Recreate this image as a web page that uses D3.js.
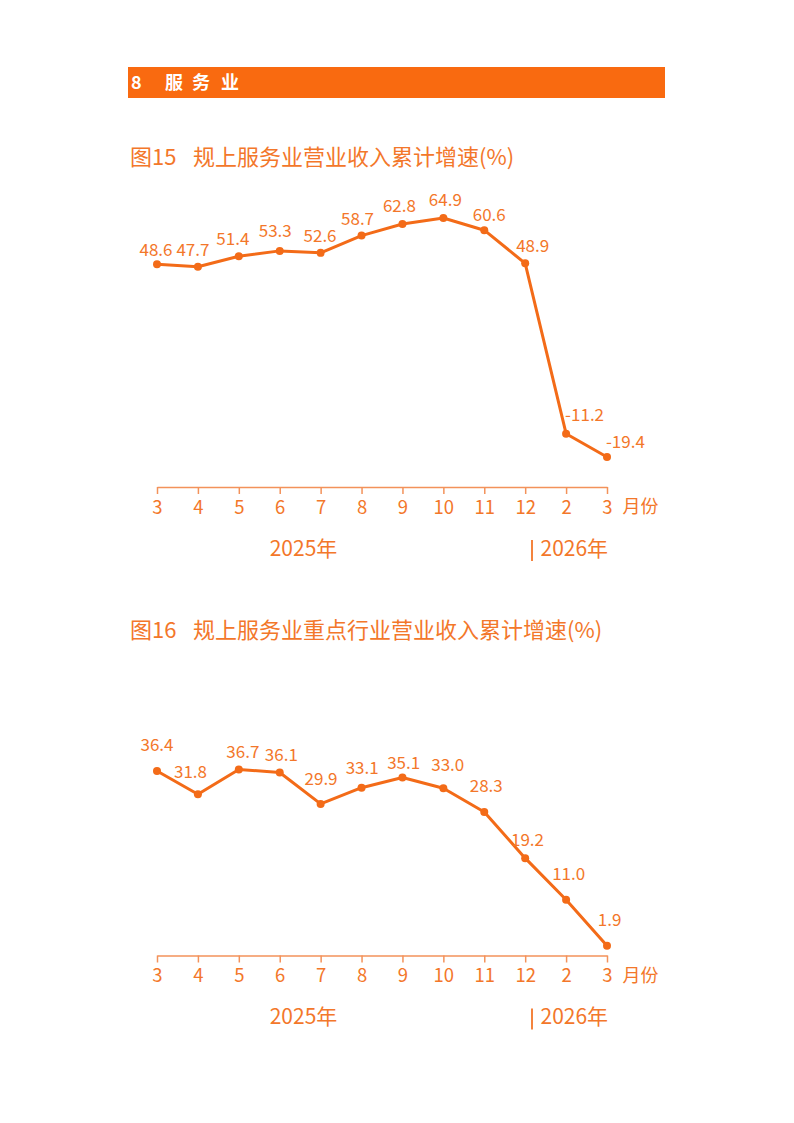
<!DOCTYPE html>
<html><head><meta charset="utf-8">
<script src="https://cdn.jsdelivr.net/npm/d3@7/dist/d3.min.js"></script>
<style>
html,body{margin:0;padding:0;background:#fff;}
svg{display:block;font-family:"Noto Sans CJK SC","Noto Sans",sans-serif;}
</style></head>
<body>
<svg id="page" width="794" height="1123"></svg>
<script>
// ---- data ----
const months = ["3","4","5","6","7","8","9","10","11","12","2","3"];
const revenueGrowth = [48.6,47.7,51.4,53.3,52.6,58.7,62.8,64.9,60.6,48.9,-11.2,-19.4];
const keyIndustryGrowth = [36.4,31.8,36.7,36.1,29.9,33.1,35.1,33.0,28.3,19.2,11.0,1.9];
const yearLabels = ["2025年","2026年"];
const unitLabel = "月份";
const title1 = ["图15","规上服务业营业收入累计增速(%)"];
const title2 = ["图16","规上服务业重点行业营业收入累计增速(%)"];
const sectionTitle = ["8","服","务","业"];

// ---- layout (label nudges in px relative to points) ----
const nudge1 = [[-1,-14],[-5,-17],[-6,-17],[-4.5,-20],[-0.6,-17],[-4,-17],[-3,-18],[2,-18],[5,-15],[7.5,-17],[18.5,-19],[18.4,-15]];
const nudge2 = [[0,-26.4],[-7.4,-22],[4,-17.6],[1.6,-18],[0.4,-25.4],[0.6,-20],[1.2,-15],[4.4,-23.7],[2,-26],[2.3,-18.7],[2.6,-26],[2.6,-26]];

const ORANGE = "#F36B18", TEXT = "#F3772A", AXIS = "#F3925A";
const svg = d3.select("#page");

// section header
svg.append("rect").attr("x",128).attr("y",67).attr("width",537).attr("height",31).attr("fill","#F96A10");
const hx = [131,165,192,221];
svg.append("g").selectAll("text").data(sectionTitle).join("text")
  .attr("x",(d,i)=>hx[i]).attr("y",83).attr("dy","0.36em")
  .attr("fill","#fff").attr("font-weight","bold").attr("font-size",18).text(d=>d);

function chart(opts){
  const g = svg.append("g");
  // title
  g.append("text").attr("x",130).attr("y",opts.titleY).attr("dy","0.36em")
    .attr("fill",TEXT).attr("font-size",22).text(opts.title[0]);
  g.append("text").attr("x",193).attr("y",opts.titleY).attr("dy","0.36em")
    .attr("fill",TEXT).attr("font-size",22).text(opts.title[1]);

  const x = d3.scalePoint().domain(d3.range(months.length)).range([157,607]);
  const y = d3.scaleLinear().domain(opts.domain).range(opts.range);

  // axis
  const ax = g.append("g").attr("transform",`translate(0,${opts.range[0]})`)
    .call(d3.axisBottom(x).tickSizeInner(7).tickSizeOuter(0).tickFormat(i=>months[i]));
  ax.select(".domain").attr("stroke",AXIS).attr("stroke-width",1.5);
  ax.selectAll(".tick line").attr("stroke",AXIS).attr("stroke-width",1.5);
  ax.selectAll(".tick text").attr("y",20).attr("dy","0.36em")
    .attr("fill",TEXT).attr("font-size",18.5).attr("font-family","'Noto Sans CJK SC',sans-serif");

  const ay = opts.range[0];
  g.append("text").attr("x",622.5).attr("y",ay+20).attr("dy","0.36em")
    .attr("fill",TEXT).attr("font-size",18).text(unitLabel);
  g.append("text").attr("x",303.5).attr("y",ay+61).attr("dy","0.36em").attr("text-anchor","middle")
    .attr("fill",TEXT).attr("font-size",21).text(yearLabels[0]);
  g.append("line").attr("x1",532).attr("x2",532).attr("y1",ay+53).attr("y2",ay+74)
    .attr("stroke",TEXT).attr("stroke-width",1.8);
  g.append("text").attr("x",540.5).attr("y",ay+61).attr("dy","0.36em")
    .attr("fill",TEXT).attr("font-size",21).text(yearLabels[1]);

  // line
  const line = d3.line().x((d,i)=>x(i)).y(d=>y(d));
  g.append("path").datum(opts.values).attr("d",line).attr("fill","none")
    .attr("stroke",ORANGE).attr("stroke-width",3).attr("stroke-linejoin","round");
  g.append("g").selectAll("circle").data(opts.values).join("circle")
    .attr("cx",(d,i)=>x(i)).attr("cy",d=>y(d)).attr("r",4).attr("fill",ORANGE);
  g.append("g").selectAll("text").data(opts.values).join("text")
    .attr("x",(d,i)=>x(i)+opts.nudge[i][0]).attr("y",(d,i)=>y(d)+opts.nudge[i][1])
    .attr("dy","0.36em").attr("text-anchor","middle")
    .attr("fill",TEXT).attr("font-size",17).text(d=>d.toFixed(1));
}

chart({title:title1,titleY:157.5,values:revenueGrowth,domain:[-30,80],range:[487,175.2],nudge:nudge1});
chart({title:title2,titleY:630,values:keyIndustryGrowth,domain:[0,40],range:[955.5,752.7],nudge:nudge2});
</script>
</body></html>
